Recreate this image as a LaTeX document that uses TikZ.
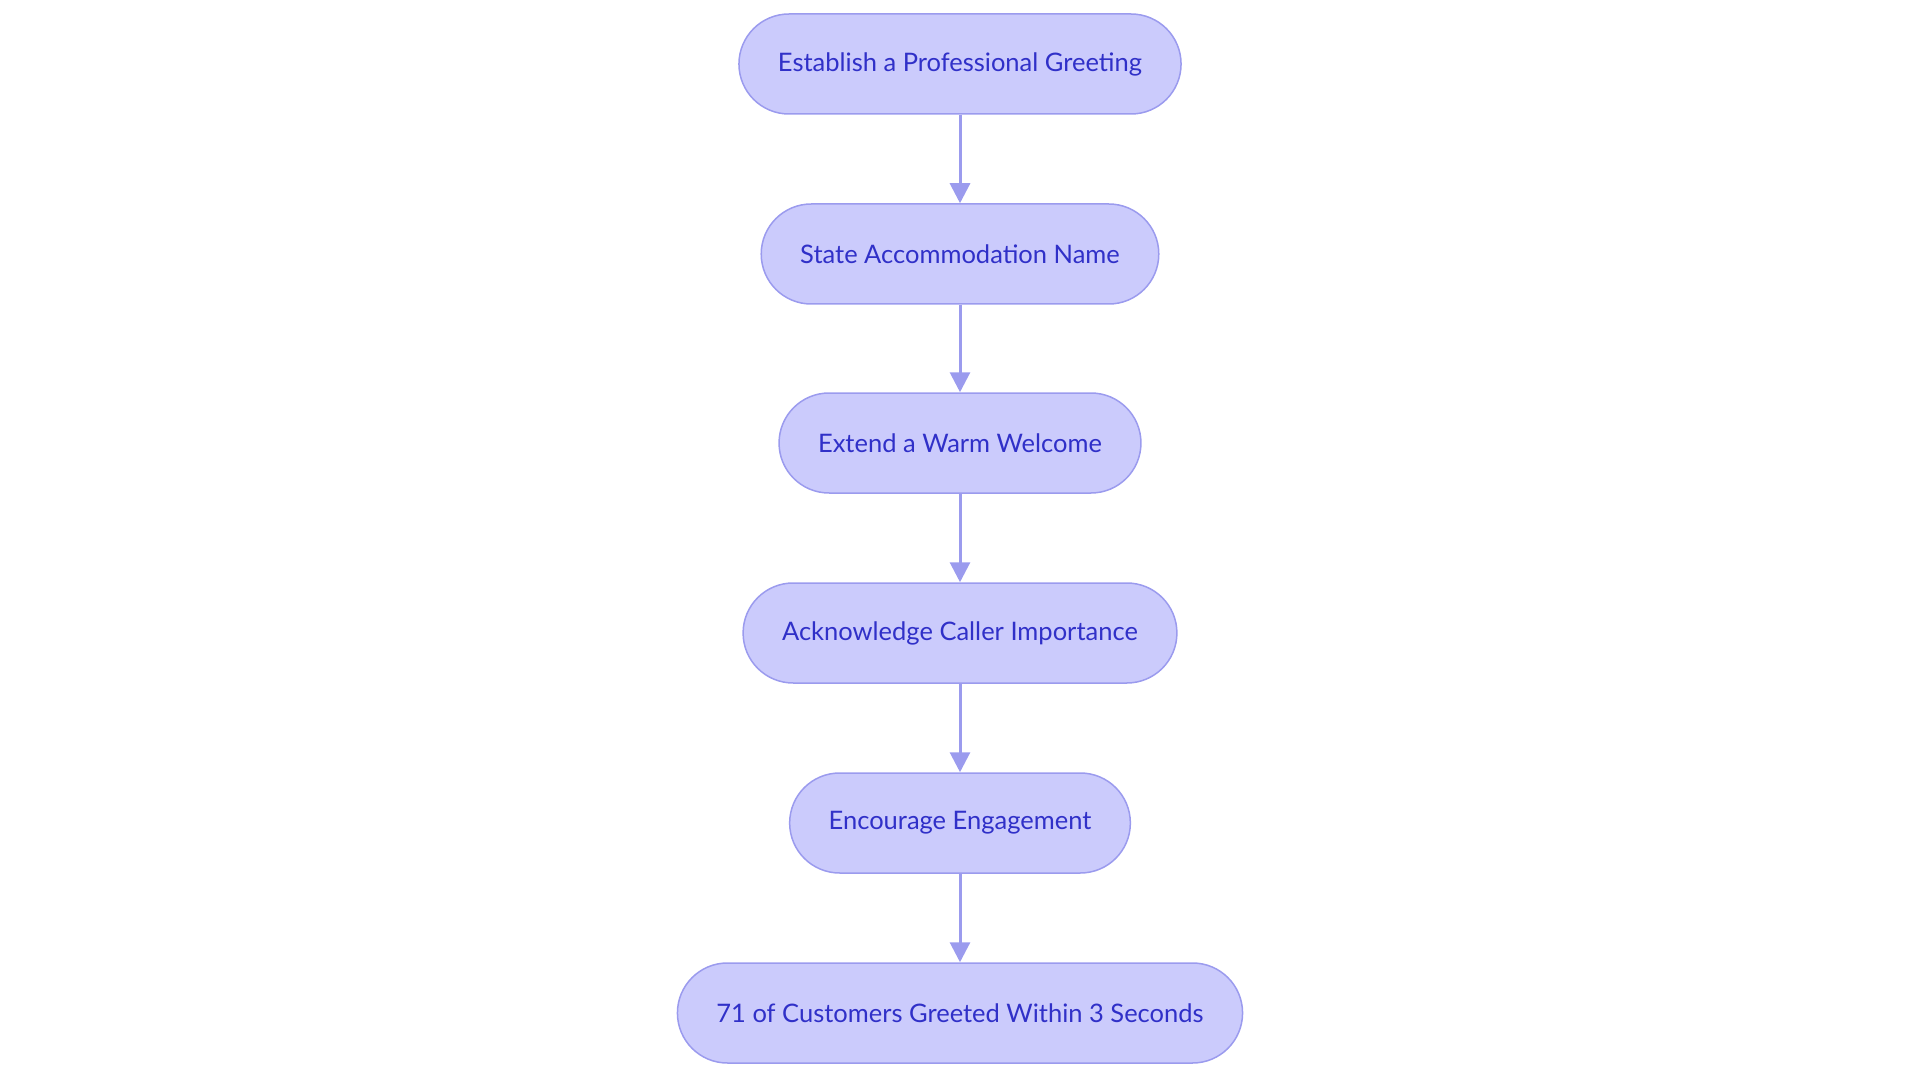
\documentclass[tikz,border=0pt]{standalone}
\usepackage{fontspec}
\setmainfont{Lato}
\usetikzlibrary{arrows.meta,positioning}
\definecolor{stepfill}{HTML}{CBCBFC}
\definecolor{stepline}{HTML}{9B9BEE}
\definecolor{steptext}{HTML}{3030C8}
\begin{document}
\begin{tikzpicture}[
    x=1pt, y=-1pt,
    pill/.style={rectangle, rounded corners=50pt, draw=stepline, line width=1.5pt, fill=stepfill, text=steptext, minimum height=100pt, font=\fontsize{25.5}{30}\selectfont, inner xsep=39pt},
    arrow/.style={-{Triangle[length=20pt, width=20pt]}, draw=stepline, line width=3pt}
]
\useasboundingbox (0,0) rectangle (1920,1083);

\node[pill] (greet) at (960,64) {Establish a Professional Greeting};
\node[pill] (name) at (960,254) {State Accommodation Name};
\node[pill] (welcome) at (960,443) {Extend a Warm Welcome};
\node[pill] (caller) at (960,633) {Acknowledge Caller Importance};
\node[pill] (engage) at (960,823) {Encourage Engagement};
\node[pill] (stat) at (960,1013) {71 of Customers Greeted Within 3 Seconds};

\draw[arrow] (greet) -- (name);
\draw[arrow] (name) -- (welcome);
\draw[arrow] (welcome) -- (caller);
\draw[arrow] (caller) -- (engage);
\draw[arrow] (engage) -- (stat);

\end{tikzpicture}
\end{document}
